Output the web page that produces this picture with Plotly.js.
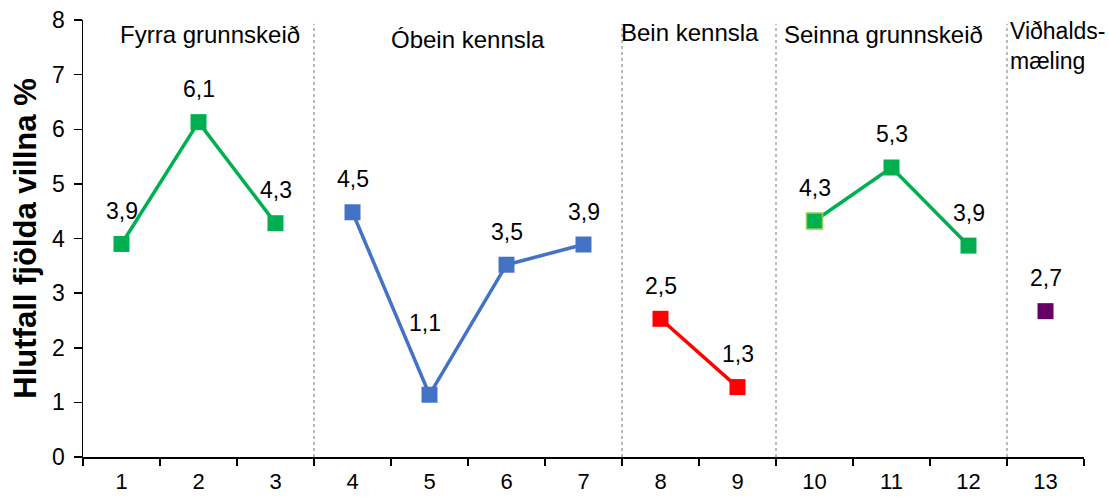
<!DOCTYPE html>
<html><head><meta charset="utf-8">
<script src="https://cdn.plot.ly/plotly-3.0.1.min.js"></script>
<style>html,body{margin:0;padding:0;background:#fff}#c{width:1109px;height:497px}</style>
</head><body><div id="c"></div>
<script>
const sessions = [1,2,3,4,5,6,7,8,9,10,11,12,13];
const tickLabels = ['1','2','3','4','5','6','7','8','9','10','11','12','13'];
const fyrraX = [1,2,3];       const fyrraY = [3.9, 6.13, 4.28];
const obeinX = [4,5,6,7];     const obeinY = [4.48, 1.14, 3.52, 3.89];
const beinX = [8,9];          const beinY = [2.53, 1.28];
const seinnaX = [10,11,12];   const seinnaY = [4.32, 5.3, 3.87];
const vidhX = [13];           const vidhY = [2.67];
const phaseNames = ['Fyrra grunnskeið','Óbein kennsla','Bein kennsla','Seinna grunnskeið','Viðhalds-<br>mæling'];
const phaseBoundaries = [3.5, 7.5, 9.5, 12.5];

const font = '"Liberation Sans", Arial, sans-serif';
function tr(x, y, color, lineColor){
  return {x:x, y:y, type:'scatter', mode: x.length>1?'lines+markers':'markers',
    line:{color:color, width:3.5},
    marker:{symbol:'square', size:16, color:color, line:{color:lineColor||color, width:lineColor?1.5:0}},
    hoverinfo:'skip', showlegend:false};
}
const green='#00B050', blue='#4472C4', red='#FF0000', purple='#660066';
const traces = [
  tr(fyrraX, fyrraY, green),
  tr(obeinX, obeinY, blue),
  tr(beinX, beinY, red),
  tr(seinnaX, seinnaY, green),
  tr(vidhX, vidhY, purple),
  tr(seinnaX.slice(0,1), seinnaY.slice(0,1), green, '#92D050')
];

const fmt = v => v.toFixed(1).replace('.', ',');
const annotations = [];
const allX = [].concat(fyrraX, obeinX, beinX, seinnaX, vidhX);
const allY = [].concat(fyrraY, obeinY, beinY, seinnaY, vidhY);
allX.forEach((x,i)=>{
  let ys = 33, xs = 0;
  if (x===5){ ys = 72; xs = -5; }
  annotations.push({x:x, y:allY[i], xref:'x', yref:'y', text:fmt(allY[i]), showarrow:false,
    yshift:ys, xshift:xs, font:{family:font, size:23, color:'#000'}});
});
const phasePos = [[2.15,7.73,'center',24],[5.5,7.64,'center',24],[8.38,7.77,'center',24],[10.89,7.73,'center',24],[12.51,7.52,'left',23]];
phaseNames.forEach((t,i)=>{
  annotations.push({x:phasePos[i][0], y:phasePos[i][1], xref:'x', yref:'y', text:t, showarrow:false,
    xanchor:phasePos[i][2], align:'left', font:{family:font, size:phasePos[i][3], color:'#000'}});
});
const shapes = phaseBoundaries.map(b=>({type:'line', xref:'x', yref:'y', x0:b, x1:b, y0:0, y1:7.93,
  line:{color:'#777', width:1, dash:'dot'}}));

const layout = {
  width:1109, height:497,
  margin:{l:83, r:25, t:20, b:40},
  paper_bgcolor:'#fff', plot_bgcolor:'#fff',
  separators:', ',
  xaxis:{range:[0.5,13.5], tickmode:'array', tickvals:sessions, ticktext:tickLabels, ticks:'', ticklabelstandoff:4,
    showline:true, linecolor:'#000', linewidth:1.5, showgrid:false, zeroline:false,
    tickfont:{family:font, size:22, color:'#000'},
    minor:{tickmode:'linear', tick0:0.5, dtick:1, ticks:'outside', ticklen:7, tickcolor:'#000', tickwidth:1.5, showgrid:false}},
  yaxis:{range:[0,8], dtick:1, ticks:'outside', ticklen:8, tickcolor:'#000', tickwidth:1.5, ticklabelstandoff:4,
    showline:true, linecolor:'#000', linewidth:1.5, showgrid:false, zeroline:false,
    tickfont:{family:font, size:23, color:'#000'},
    title:{text:'Hlutfall fjölda villna %', font:{family:font, size:31, color:'#000', weight:'bold'}, standoff:6}},
  annotations:annotations, shapes:shapes
};
Plotly.newPlot('c', traces, layout, {displayModeBar:false, staticPlot:true});
</script></body></html>
